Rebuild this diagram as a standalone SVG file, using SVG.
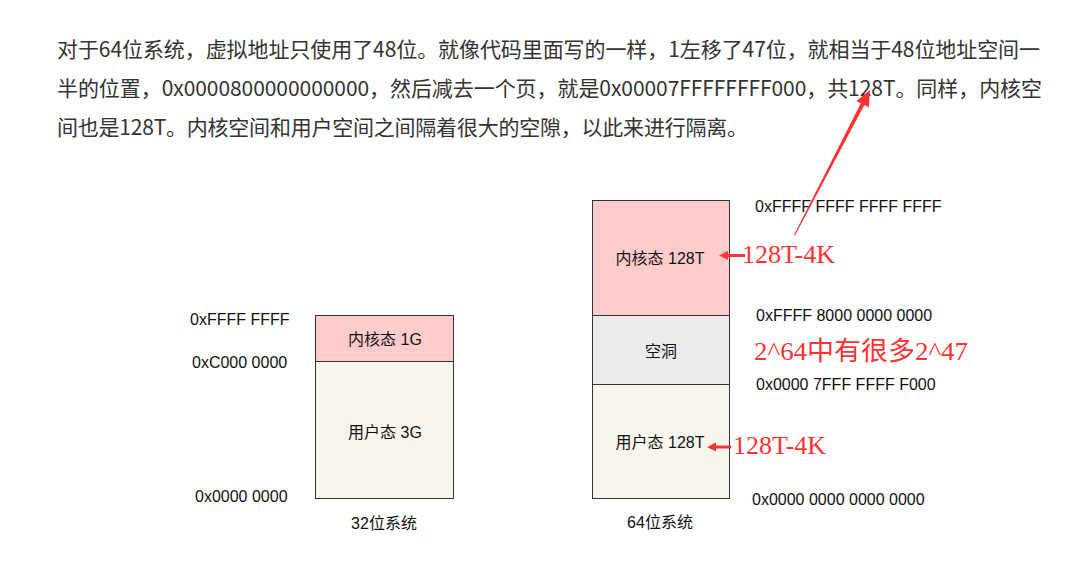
<svg xmlns="http://www.w3.org/2000/svg" width="1091" height="582" viewBox="0 0 1091 582">
  <style>
    .para { font-family: "Noto Sans CJK SC", "Noto Sans", sans-serif; font-size: 21px; fill: #333333; }
    .addr { font-family: "Liberation Sans", "Noto Sans CJK SC", sans-serif; font-size: 16px; fill: #111111; }
    .lbl { font-family: "Liberation Sans", "Noto Sans CJK SC", sans-serif; font-size: 16px; fill: #111111; text-anchor: middle; }
    .note { font-family: "Liberation Serif", "Noto Sans CJK SC", serif; font-size: 26px; fill: #ff3333; }
    .box { stroke: #333333; stroke-width: 1; }
    .kern { fill: #ffcccc; }
    .user { fill: #f8f5ec; }
    .gap { fill: #ebebeb; }
    .red { fill: #ff3333; }
  </style>
  <rect width="1091" height="582" fill="#ffffff"/>

  <g id="paragraph">
    <text class="para" x="57" y="57" textLength="983" lengthAdjust="spacing">对于64位系统，虚拟地址只使用了48位。就像代码里面写的一样，1左移了47位，就相当于48位地址空间一</text>
    <text class="para" x="57" y="96" textLength="985" lengthAdjust="spacing">半的位置，0x0000800000000000，然后减去一个页，就是0x00007FFFFFFFF000，共128T。同样，内核空</text>
    <text class="para" x="57" y="135" textLength="691" lengthAdjust="spacing">间也是128T。内核空间和用户空间之间隔着很大的空隙，以此来进行隔离。</text>
  </g>

  <g id="sys32">
    <rect class="box kern" x="315.5" y="315.5" width="138" height="46"/>
    <rect class="box user" x="315.5" y="361.5" width="138" height="137"/>
    <text class="lbl" x="385" y="345">内核态 1G</text>
    <text class="lbl" x="385" y="438">用户态 3G</text>
    <text class="addr" x="190" y="325">0xFFFF FFFF</text>
    <text class="addr" x="192" y="368">0xC000 0000</text>
    <text class="addr" x="195" y="502">0x0000 0000</text>
    <text class="lbl" x="384" y="529">32位系统</text>
  </g>

  <g id="sys64">
    <rect class="box kern" x="592.5" y="200.5" width="137" height="115"/>
    <rect class="box gap" x="592.5" y="315.5" width="137" height="69"/>
    <rect class="box user" x="592.5" y="384.5" width="137" height="114"/>
    <text class="lbl" x="660" y="264">内核态 128T</text>
    <text class="lbl" x="661" y="357">空洞</text>
    <text class="lbl" x="660" y="448">用户态 128T</text>
    <text class="addr" x="755" y="212">0xFFFF FFFF FFFF FFFF</text>
    <text class="addr" x="756" y="321">0xFFFF 8000 0000 0000</text>
    <text class="addr" x="756" y="390">0x0000 7FFF FFFF F000</text>
    <text class="addr" x="752" y="505">0x0000 0000 0000 0000</text>
    <text class="lbl" x="660" y="528">64位系统</text>
  </g>

  <g id="annotations">
    <text class="note" x="742" y="263" font-size="25" textLength="93" lengthAdjust="spacingAndGlyphs">128T-4K</text>
    <text class="note" x="754" y="360" textLength="214" lengthAdjust="spacingAndGlyphs">2^64中有很多2^47</text>
    <text class="note" x="733" y="454" font-size="25" textLength="93" lengthAdjust="spacingAndGlyphs">128T-4K</text>
  </g>

  <g id="connectors">
    <polygon class="red" points="794,235 860.8,103.3 856.4,101.0 870,90 868.8,107.4 864.4,105.1 795,235.5"/>
    <polygon class="red" points="745,254 728,254 728,251 719,255.5 728,260 728,257 745,257"/>
    <polygon class="red" points="731,445.5 716,445.5 716,442.5 707,447 716,451.5 716,448.5 731,448.5"/>
  </g>
</svg>
